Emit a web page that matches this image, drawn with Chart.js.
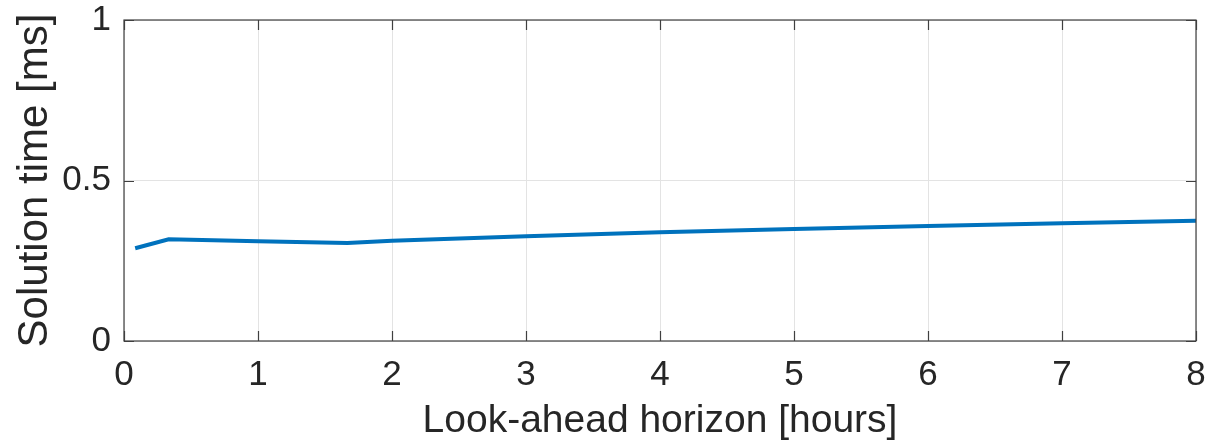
<!DOCTYPE html>
<html>
<head>
<meta charset="utf-8">
<script src="https://cdn.jsdelivr.net/npm/chart.js@4.4.1/dist/chart.umd.min.js"></script>
<style>
  html, body { margin: 0; padding: 0; background: #ffffff; }
  #wrap { width: 1209px; height: 445px; position: relative; }
</style>
</head>
<body>
<div id="wrap"><canvas id="c" width="1209" height="445"></canvas></div>
<script>
// Look-ahead horizon (hours) and measured solver time (ms)
const horizonHours = [1/12, 1/3, 1, 5/3, 2, 3, 4, 5, 6, 7, 8];
const solutionTimeMs = [0.289, 0.317, 0.311, 0.305, 0.312, 0.326, 0.339, 0.349, 0.358, 0.367, 0.375];
const xTicks = [0, 1, 2, 3, 4, 5, 6, 7, 8];
const yTicks = [0, 0.5, 1];
const xTitle = 'Look-ahead horizon [hours]';
const yTitle = 'Solution time [ms]';

const FONT = '"Liberation Sans", Arial, Helvetica, sans-serif';
const AXIS_COLOR = '#404040';
const GRID_COLOR = '#e3e3e3';
const LINE_COLOR = '#0072BD';

// Box around the axes plus inward-pointing tick marks on all four sides
const boxAxes = {
  id: 'boxAxes',
  afterDatasetsDraw(chart) {
    const { ctx, chartArea: a, scales: { x, y } } = chart;
    const len = 10;
    ctx.save();
    ctx.strokeStyle = AXIS_COLOR;
    ctx.lineWidth = 1.2;
    ctx.beginPath();
    xTicks.forEach(v => {
      const px = Math.round(x.getPixelForValue(v)) + 0.5;
      ctx.moveTo(px, a.bottom); ctx.lineTo(px, a.bottom - len);
      ctx.moveTo(px, a.top); ctx.lineTo(px, a.top + len);
    });
    yTicks.forEach(v => {
      const py = Math.round(y.getPixelForValue(v)) + 0.5;
      ctx.moveTo(a.left, py); ctx.lineTo(a.left + len, py);
      ctx.moveTo(a.right, py); ctx.lineTo(a.right - len, py);
    });
    ctx.stroke();
    ctx.strokeRect(a.left, a.top, a.right - a.left, a.bottom - a.top);
    ctx.restore();
  }
};

// Fixed axis sizes; edge labels may overhang the plot without shrinking it
function fixSize(prop, size) {
  return s => {
    s[prop] = size;
    s.paddingTop = 0; s.paddingBottom = 0; s.paddingLeft = 0; s.paddingRight = 0;
  };
}

new Chart(document.getElementById('c'), {
  type: 'line',
  data: {
    datasets: [{
      data: horizonHours.map((h, i) => ({ x: h, y: solutionTimeMs[i] })),
      borderColor: LINE_COLOR,
      borderWidth: 4,
      pointRadius: 0,
      tension: 0,
      fill: false
    }]
  },
  options: {
    responsive: false,
    animation: false,
    events: [],
    layout: { padding: { top: 20, right: 13, left: 0, bottom: 0 } },
    plugins: { legend: { display: false }, tooltip: { enabled: false } },
    scales: {
      x: {
        type: 'linear',
        min: 0, max: 8,
        afterBuildTicks: s => { s.ticks = xTicks.map(v => ({ value: v })); },
        afterFit: fixSize('height', 104),
        grid: { color: GRID_COLOR, drawTicks: false, lineWidth: 1 },
        border: { display: false },
        ticks: { color: '#262626', font: { family: FONT, size: 35 }, padding: 13, maxRotation: 0 },
        title: { display: true, text: xTitle, color: '#262626', font: { family: FONT, size: 39 }, padding: { top: 0, bottom: 0 } }
      },
      y: {
        type: 'linear',
        min: 0, max: 1,
        afterBuildTicks: s => { s.ticks = yTicks.map(v => ({ value: v })); },
        afterFit: fixSize('width', 124),
        grid: { color: GRID_COLOR, drawTicks: false, lineWidth: 1 },
        border: { display: false },
        ticks: { color: '#262626', font: { family: FONT, size: 35 }, padding: 13, callback: v => String(v) },
        title: { display: true, text: yTitle, color: '#262626', font: { family: FONT, size: 42 }, padding: { top: 10, bottom: 0 } }
      }
    }
  },
  plugins: [boxAxes]
});
</script>
</body>
</html>
